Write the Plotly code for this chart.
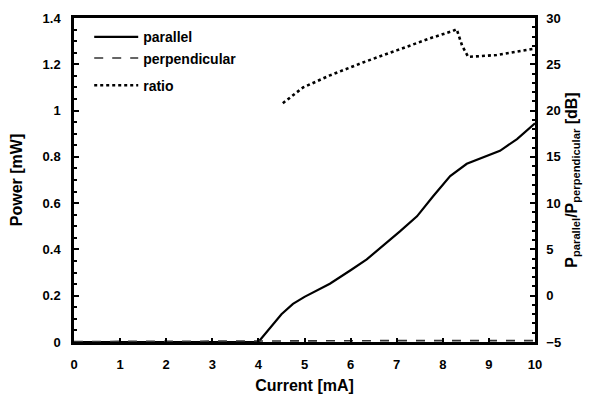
import plotly.graph_objects as go

# Parallel-polarised output power (mW) vs drive current (mA)
current_par = [0, 1, 2, 3, 4.0, 4.5, 4.75, 5.0, 5.55, 6.0, 6.35, 7.07, 7.44, 7.79, 8.16, 8.52, 8.87, 9.24, 9.61, 10.0]
power_par = [0, 0, 0, 0, 0.0, 0.12, 0.165, 0.195, 0.252, 0.31, 0.357, 0.478, 0.543, 0.63, 0.717, 0.77, 0.796, 0.826, 0.877, 0.945]

# Perpendicular-polarised output power (mW)
current_perp = [0, 1, 2, 3, 4, 5, 6, 7, 8, 9, 10]
power_perp = [0.002, 0.003, 0.004, 0.005, 0.006, 0.006, 0.006, 0.006, 0.006, 0.006, 0.006]

# Polarisation ratio P_parallel / P_perpendicular (dB)
current_ratio = [4.53, 4.75, 4.97, 5.55, 6.27, 7.0, 7.72, 8.22, 8.3, 8.42, 8.55, 9.17, 9.93, 10.0]
ratio_db = [20.8, 21.7, 22.5, 23.8, 25.2, 26.5, 27.8, 28.6, 28.8, 27.0, 25.8, 26.0, 26.6, 26.7]

x_ticks = list(range(0, 11))
FONT = "Liberation Sans"

fig = go.Figure()
fig.add_trace(go.Scatter(
    x=current_par, y=power_par, name="parallel", mode="lines",
    line=dict(color="black", width=2.2), legendgroup="power",
))
fig.add_trace(go.Scatter(
    x=current_perp, y=power_perp, name="perpendicular", mode="lines",
    line=dict(color="#333333", width=1.6, dash="dash"), legendgroup="power",
))
fig.add_trace(go.Scatter(
    x=current_ratio, y=ratio_db, name="ratio", mode="lines", yaxis="y2",
    line=dict(color="black", width=2.6, dash="dot"), legendgroup="ratio",
))

axis_font = dict(family=FONT, size=13, color="black", weight="bold")
title_font = dict(family=FONT, size=16, color="black", weight="bold")

fig.update_layout(
    width=590, height=400,
    margin=dict(l=74, r=55, t=18, b=58, autoexpand=False),
    plot_bgcolor="white", paper_bgcolor="white",
    font=dict(family=FONT, color="black"),
    showlegend=True,
    legend=dict(
        x=0.033, y=0.99, xanchor="left", yanchor="top",
        bgcolor="rgba(0,0,0,0)", borderwidth=0,
        font=dict(family=FONT, size=14, color="black", weight="bold"),
        traceorder="grouped", tracegroupgap=6, itemwidth=44,
    ),
    xaxis=dict(
        range=[0, 10], tickvals=x_ticks, ticks="inside", ticklen=4, tickwidth=2,
        tickcolor="black", showline=True, linecolor="black", linewidth=2.5,
        mirror=True, showgrid=False, zeroline=False, automargin=False,
        tickfont=axis_font, ticklabelstandoff=9,
        title=dict(text="Current [mA]", font=title_font, standoff=9),
    ),
    yaxis=dict(
        range=[0, 1.4], dtick=0.2, ticks="inside", ticklen=5, tickwidth=2,
        tickcolor="black", showline=True, linecolor="black", linewidth=2.5,
        showgrid=False, zeroline=False, tickformat="~g", automargin=False,
        minor=dict(dtick=0.05, ticks="inside", ticklen=3, tickwidth=1.5, tickcolor="black"),
        tickfont=axis_font, ticklabelstandoff=8,
        title=dict(text="Power [mW]", font=title_font, standoff=16),
    ),
    yaxis2=dict(
        range=[-5, 30], dtick=5, overlaying="y", side="right",
        ticks="inside", ticklen=5, tickwidth=2, tickcolor="black",
        showline=True, linecolor="black", linewidth=2.5,
        showgrid=False, zeroline=False, automargin=False,
        minor=dict(dtick=1, ticks="inside", ticklen=3, tickwidth=1.5, tickcolor="black"),
        tickfont=axis_font, ticklabelstandoff=6,
        title=dict(text="P<sub>parallel</sub>/P<sub>perpendicular</sub> [dB]",
                   font=title_font, standoff=6),
    ),
)

fig.write_html("out.html")
